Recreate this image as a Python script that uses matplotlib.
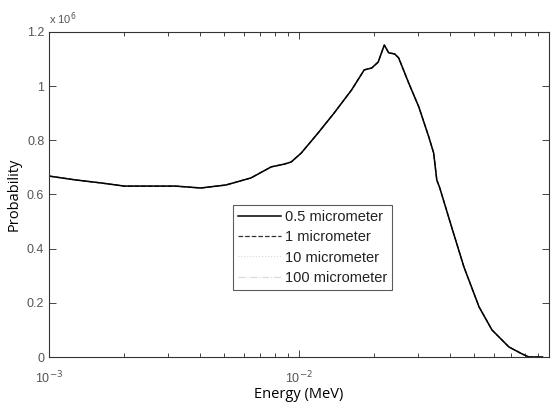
import numpy as np
import matplotlib
matplotlib.use('Agg')
from matplotlib import pyplot as plt
from matplotlib.ticker import LogLocator, NullFormatter, FixedLocator, FixedFormatter

# energy grid (MeV) and probability (x 1e6)
energy = [1.0e-3, 1.27e-3, 1.60e-3, 2.0e-3, 2.55e-3, 3.2e-3, 4.04e-3, 5.09e-3,
          6.41e-3, 7.73e-3, 8.71e-3, 9.29e-3, 1.019e-2, 1.19e-2, 1.38e-2,
          1.62e-2, 1.82e-2, 1.95e-2, 2.07e-2, 2.19e-2, 2.28e-2, 2.41e-2,
          2.50e-2, 2.74e-2, 3.01e-2, 3.30e-2, 3.45e-2, 3.55e-2, 3.65e-2,
          4.07e-2, 4.56e-2, 5.24e-2, 5.90e-2, 6.90e-2, 7.80e-2, 8.30e-2,
          9.40e-2]
prob_05 = [0.668, 0.654, 0.643, 0.631, 0.631, 0.631, 0.624, 0.635,
           0.661, 0.702, 0.712, 0.720, 0.753, 0.827, 0.901,
           0.986, 1.060, 1.067, 1.089, 1.152, 1.123, 1.119,
           1.104, 1.012, 0.923, 0.812, 0.753, 0.654, 0.624,
           0.480, 0.332, 0.185, 0.100, 0.037, 0.011, 0.0,
           0.0]
prob_1 = list(prob_05)
prob_10 = list(prob_05)
prob_100 = list(prob_05)
labels = ['0.5 micrometer', '1 micrometer', '10 micrometer', '100 micrometer']

plt.rcParams['font.family'] = ['Liberation Sans', 'DejaVu Sans']
fig = plt.figure(figsize=(5.52, 4.08), dpi=100)
ax = fig.add_axes([0.089, 0.125, 0.906, 0.7966])

# faint curves first, solid one on top
l100, = ax.plot(energy, prob_100, color='#d8d8d8', lw=0.8, ls='-.')
l10, = ax.plot(energy, prob_10, color='#d8d8d8', lw=0.8, ls=':')
l1, = ax.plot(energy, prob_1, color='#333333', lw=0.9, ls='--')
l05, = ax.plot(energy, prob_05, color='black', lw=1.1, ls='-')

ax.set_xscale('log')
ax.set_xlim(1e-3, 1e-1)
ax.set_ylim(0, 1.2)
ax.yaxis.set_major_locator(FixedLocator([0, 0.2, 0.4, 0.6, 0.8, 1.0, 1.2]))
ax.yaxis.set_major_formatter(FixedFormatter(['0', '0.2', '0.4', '0.6', '0.8', '1', '1.2']))
ax.xaxis.set_major_locator(FixedLocator([1e-3, 1e-2, 1e-1]))
ax.xaxis.set_major_formatter(FixedFormatter([r'10$^{-3}$', r'10$^{-2}$', '']))
ax.xaxis.set_minor_locator(LogLocator(base=10, subs=np.arange(2, 10)))
ax.xaxis.set_minor_formatter(NullFormatter())

ax.tick_params(which='both', direction='in', top=True, right=True,
               labelsize=9, labelcolor='#555555', color='#444444')
ax.tick_params(which='major', length=5, width=0.7)
ax.tick_params(which='minor', length=3, width=0.7)
ax.tick_params(axis='x', which='major', pad=9)
for s in ax.spines.values():
    s.set_linewidth(0.8)
    s.set_color('#333333')

ax.text(0.0, 1.015, r'x 10$^{6}$', transform=ax.transAxes,
        fontsize=8, color='#555555', ha='left', va='bottom')

ax.set_xlabel('Energy (MeV)', family=['Open Sans', 'DejaVu Sans'],
              fontsize=10.5, labelpad=1)
ax.set_ylabel('Probability', family=['Open Sans', 'DejaVu Sans'],
              fontsize=10.5, labelpad=4)

leg = ax.legend([l05, l1, l10, l100], labels, loc='upper left',
                bbox_to_anchor=(0.368, 0.467), fontsize=10.5, frameon=True,
                fancybox=False, edgecolor='#333333', handlelength=2.9,
                handletextpad=0.3, labelspacing=0.42, borderpad=0.35,
                borderaxespad=0)
leg.get_frame().set_linewidth(0.8)
for t in leg.get_texts():
    t.set_color('#222222')

fig.savefig('out.png', dpi=100)
